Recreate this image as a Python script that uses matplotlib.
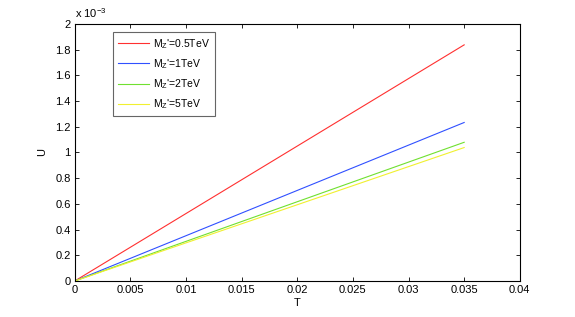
import matplotlib
matplotlib.use("Agg")
import matplotlib.pyplot as plt
from matplotlib.ticker import FuncFormatter, MultipleLocator

plt.rcParams['font.family'] = ['Liberation Sans', 'DejaVu Sans']
plt.rcParams['mathtext.fontset'] = 'custom'
plt.rcParams['mathtext.rm'] = 'Liberation Sans'
plt.rcParams['mathtext.it'] = 'Liberation Sans'

T = [0.0, 0.035]
U_05 = [0.0, 1.837e-3]
U_1 = [0.0, 1.233e-3]
U_2 = [0.0, 1.079e-3]
U_5 = [0.0, 1.038e-3]
labels = ["M$_{Z}$'=0.5TeV", "M$_{Z}$'=1TeV", "M$_{Z}$'=2TeV", "M$_{Z}$'=5TeV"]
colors = ['#ff3030', '#3050ff', '#70e030', '#f0f030']

fig = plt.figure(figsize=(5.75, 3.17), dpi=100)
ax = fig.add_axes([0.130, 0.1136, 0.774, 0.811])
for U, lab, c in zip([U_05, U_1, U_2, U_5], labels, colors):
    ax.plot(T, U, color=c, lw=0.8, label=lab)

ax.set_xlim(0, 0.04)
ax.set_ylim(0, 2e-3)
ax.xaxis.set_major_locator(MultipleLocator(0.005))
ax.yaxis.set_major_locator(MultipleLocator(0.2e-3))
ax.xaxis.set_major_formatter(FuncFormatter(lambda v, p: "%g" % round(v, 4)))
ax.yaxis.set_major_formatter(FuncFormatter(lambda v, p: "%g" % round(v * 1e3, 3)))
ax.tick_params(direction='in', top=True, right=True, labelsize=8, length=3, width=0.6, pad=3)
for s in ax.spines.values():
    s.set_linewidth(0.8)
ax.text(0.0, 1.015, r"x 10$^{-3}$", transform=ax.transAxes, fontsize=8, ha='left', va='bottom')
ax.set_xlabel("T", fontsize=8, labelpad=2)
ax.set_ylabel("U", fontsize=8, labelpad=6)

leg = ax.legend(loc='upper left', bbox_to_anchor=(0.085, 0.969), fontsize=7.5, frameon=True,
                fancybox=False, edgecolor='#404040', handlelength=3.0, handletextpad=0.4,
                borderpad=0.5, labelspacing=0.6, borderaxespad=0)
leg.get_frame().set_linewidth(0.8)

fig.savefig("out.png", dpi=100, facecolor='white')
